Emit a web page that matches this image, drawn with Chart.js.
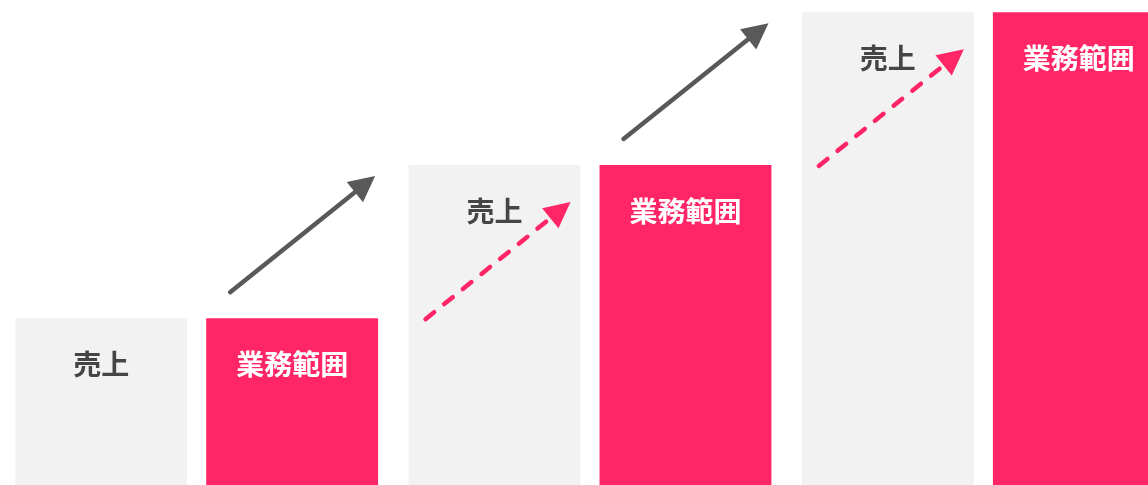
<!DOCTYPE html>
<html lang="ja">
<head>
<meta charset="utf-8">
<title>売上と業務範囲</title>
<script src="https://cdn.jsdelivr.net/npm/chart.js@4.4.1/dist/chart.umd.min.js"></script>
<style>
    html, body {
        margin: 0;
        padding: 0;
        background: #ffffff;
        overflow: hidden;
    }
    .chart-box {
        position: absolute;
        left: 0;
        top: 0;
        width: 1180px;
        height: 485px;
    }
</style>
</head>
<body>
<div class="chart-box">
    <canvas id="growth-chart"></canvas>
</div>
<script>
// Chart data
const categories = ['ステップ1', 'ステップ2', 'ステップ3'];
const seriesLabels = ['売上', '業務範囲'];
const salesValues = [34.4, 66.0, 97.5];
const scopeValues = [34.4, 66.0, 97.5];

const GREY = '#f2f2f2';
const PINK = '#ff2566';
const ARROW_GREY = '#595959';
const TEXT_DARK = '#454545';
const LABEL_FONT = 'bold 28px "Noto Sans CJK JP", "Noto Sans", sans-serif';

// Draw a straight arrow with a triangular head
function drawArrow(ctx, x1, y1, x2, y2, color, dashed) {
    const headLen = 26;
    const headHalf = 13;
    const angle = Math.atan2(y2 - y1, x2 - x1);
    const bx = x2 - headLen * Math.cos(angle);
    const by = y2 - headLen * Math.sin(angle);

    ctx.save();
    ctx.strokeStyle = color;
    ctx.fillStyle = color;
    ctx.lineWidth = 4.5;
    ctx.lineCap = 'round';
    ctx.setLineDash(dashed ? [11, 13] : []);
    ctx.beginPath();
    ctx.moveTo(x1, y1);
    ctx.lineTo(bx + 2 * Math.cos(angle), by + 2 * Math.sin(angle));
    ctx.stroke();

    ctx.setLineDash([]);
    ctx.beginPath();
    ctx.moveTo(x2, y2);
    ctx.lineTo(bx + headHalf * Math.sin(angle), by - headHalf * Math.cos(angle));
    ctx.lineTo(bx - headHalf * Math.sin(angle), by + headHalf * Math.cos(angle));
    ctx.closePath();
    ctx.fill();
    ctx.restore();
}

// Labels inside bars and growth arrows between steps
const overlayPlugin = {
    id: 'overlay',
    afterDatasetsDraw(chart) {
        const ctx = chart.ctx;
        const greyBars = chart.getDatasetMeta(0).data;
        const pinkBars = chart.getDatasetMeta(1).data;

        ctx.save();
        ctx.font = LABEL_FONT;
        ctx.textAlign = 'center';
        ctx.textBaseline = 'middle';
        greyBars.forEach(bar => {
            ctx.fillStyle = TEXT_DARK;
            ctx.fillText(seriesLabels[0], bar.x, bar.y + 46);
        });
        pinkBars.forEach(bar => {
            ctx.fillStyle = '#ffffff';
            ctx.fillText(seriesLabels[1], bar.x, bar.y + 46);
        });
        ctx.restore();

        for (let i = 0; i < categories.length - 1; i++) {
            const pink = pinkBars[i];
            const nextPink = pinkBars[i + 1];
            const nextGrey = greyBars[i + 1];

            // solid arrow above the pink bar
            drawArrow(ctx, pink.x - 62, pink.y - 26, pink.x + 83, nextPink.y + 11, ARROW_GREY, false);

            // dashed arrow on the next grey bar
            drawArrow(ctx, nextGrey.x - 69, pink.y + 1, nextGrey.x + 76, nextGrey.y + 37, PINK, true);
        }
    }
};

function initChart() {
    const canvas = document.getElementById('growth-chart');
    if (!canvas) return;

    window.growthChart = new Chart(canvas, {
        type: 'bar',
        data: {
            labels: categories,
            datasets: [
                {
                    label: seriesLabels[0],
                    data: salesValues,
                    backgroundColor: GREY,
                    borderWidth: 0,
                    categoryPercentage: 0.971,
                    barPercentage: 0.9
                },
                {
                    label: seriesLabels[1],
                    data: scopeValues,
                    backgroundColor: PINK,
                    borderWidth: 0,
                    categoryPercentage: 0.971,
                    barPercentage: 0.9
                }
            ]
        },
        options: {
            responsive: true,
            maintainAspectRatio: false,
            animation: false,
            layout: { padding: 0 },
            plugins: {
                legend: { display: false },
                tooltip: { enabled: false }
            },
            scales: {
                x: { display: false },
                y: { display: false, min: 0, max: 100 }
            }
        },
        plugins: [overlayPlugin]
    });
}

document.addEventListener('DOMContentLoaded', initChart);
</script>
</body>
</html>
